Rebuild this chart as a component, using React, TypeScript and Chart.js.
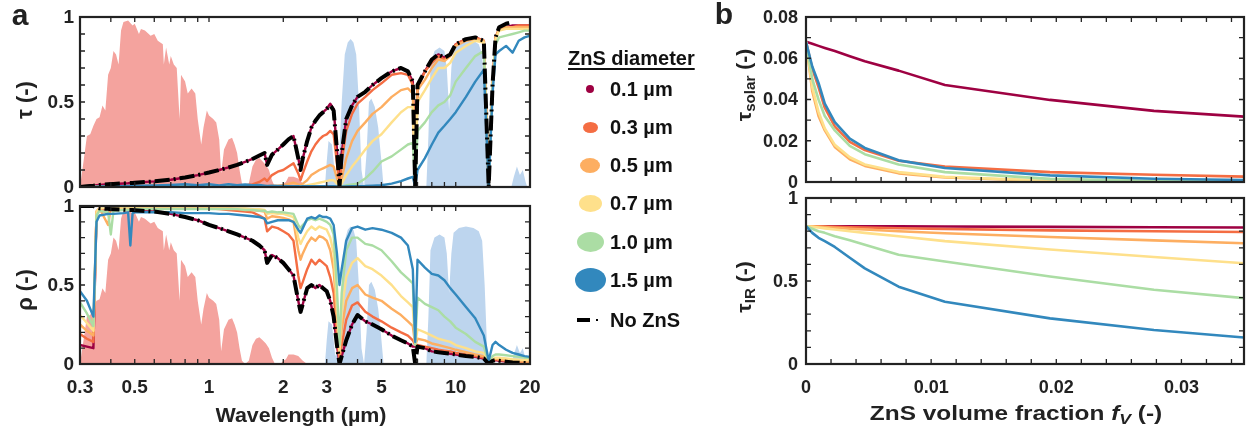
import React, { useEffect, useRef } from "react";
import { Chart, registerables } from "chart.js";
Chart.register(...registerables);

const W = 1246;
const H = 438;

// ---------- panel a: wavelength grid (µm) ----------
const WL = [
  0.30, 0.32, 0.34, 0.35, 0.36,
  0.39, 0.40, 0.41,
  0.45, 0.47, 0.48, 0.49, 0.5,
  0.6, 0.7, 0.8, 0.9, 1.0,
  1.1, 1.2, 1.3, 1.4, 1.5,
  1.6, 1.68, 1.72, 1.8, 1.9,
  2.0, 2.1, 2.2, 2.3, 2.35,
  2.4, 2.5, 2.6, 2.7, 2.8,
  2.9, 3.0, 3.1, 3.2, 3.3,
  3.38, 3.45, 3.6, 3.8, 4.0,
  4.3, 4.6, 5.0, 5.5, 6.0,
  6.4, 6.7, 6.85, 7.0, 7.5,
  8.0, 8.5, 9.0, 9.5, 10,
  11, 12, 13, 13.6, 14.1,
  14.5, 15, 16, 17, 18,
  19, 20,
];

// transmittance tau (-)
const TAU_NOZNS = [
  0, 0.005, 0.008, 0.01, 0.012,
  0.016, 0.017, 0.018,
  0.021, 0.022, 0.023, 0.024, 0.025,
  0.033, 0.043, 0.056, 0.07, 0.085,
  0.10, 0.115, 0.13, 0.148, 0.165,
  0.185, 0.20, 0.13, 0.19, 0.22,
  0.25, 0.28, 0.30, 0.17, 0.10,
  0.17, 0.27, 0.35, 0.39, 0.42,
  0.44, 0.46, 0.48, 0.45, 0.22,
  0.0, 0.20, 0.40, 0.48, 0.53,
  0.56, 0.60, 0.64, 0.68, 0.70,
  0.68, 0.62, 0.0, 0.60, 0.68,
  0.75, 0.78, 0.76, 0.78, 0.84,
  0.87, 0.88, 0.86, 0.0, 0.60,
  0.88, 0.94, 0.96, 0.97, null,
  null, null,
];
const TAU_01 = [
  0, 0.005, 0.008, 0.01, 0.012,
  0.016, 0.017, 0.018,
  0.021, 0.022, 0.023, 0.024, 0.025,
  0.033, 0.043, 0.056, 0.07, 0.085,
  0.10, 0.115, 0.13, 0.148, 0.165,
  0.185, 0.20, 0.13, 0.19, 0.22,
  0.25, 0.28, 0.30, 0.17, 0.10,
  0.17, 0.27, 0.35, 0.39, 0.42,
  0.44, 0.46, 0.49, 0.46, 0.22,
  0.0, 0.20, 0.40, 0.48, 0.53,
  0.56, 0.60, 0.64, 0.68, 0.70,
  0.68, 0.62, 0.0, 0.60, 0.68,
  0.75, 0.78, 0.76, 0.78, 0.84,
  0.87, 0.88, 0.86, 0.0, 0.60,
  0.88, 0.93, 0.94, 0.95, 0.95,
  0.95, 0.95,
];
const TAU_03 = [
  0, 0.002, 0.003, 0.003, 0.003,
  0.004, 0.004, 0.004,
  0.004, 0.004, 0.004, 0.004, 0.004,
  0.004, 0.004, 0.004, 0.005, 0.005,
  0.005, 0.006, 0.008, 0.01, 0.015,
  0.03, 0.05, 0.035, 0.07, 0.09,
  0.10, 0.12, 0.14, 0.08, 0.04,
  0.08, 0.15, 0.21, 0.25, 0.28,
  0.30, 0.31, 0.33, 0.31, 0.14,
  0.0, 0.15, 0.33, 0.43, 0.49,
  0.53, 0.57, 0.61, 0.66, 0.67,
  0.66, 0.60, 0.0, 0.58, 0.68,
  0.73, 0.77, 0.75, 0.78, 0.84,
  0.87, 0.88, 0.86, 0.0, 0.60,
  0.88, 0.93, 0.94, 0.94, 0.95,
  0.95, 0.95,
];
const TAU_05 = [
  0, 0.001, 0.002, 0.002, 0.002,
  0.002, 0.002, 0.002,
  0.002, 0.002, 0.002, 0.002, 0.002,
  0.002, 0.002, 0.003, 0.003, 0.003,
  0.003, 0.003, 0.003, 0.004, 0.004,
  0.005, 0.006, 0.005, 0.007, 0.008,
  0.01, 0.018, 0.025, 0.015, 0.01,
  0.02, 0.04, 0.07, 0.085, 0.10,
  0.11, 0.12, 0.13, 0.12, 0.05,
  0.0, 0.05, 0.17, 0.27, 0.33,
  0.38, 0.43, 0.47, 0.53, 0.57,
  0.58, 0.55, 0.0, 0.57, 0.63,
  0.70, 0.75, 0.74, 0.77, 0.83,
  0.86, 0.87, 0.86, 0.0, 0.60,
  0.88, 0.93, 0.94, 0.94, 0.94,
  0.94, 0.94,
];
const TAU_07 = [
  0, 0.001, 0.001, 0.001, 0.001,
  0.001, 0.001, 0.001,
  0.001, 0.001, 0.001, 0.001, 0.001,
  0.001, 0.001, 0.002, 0.002, 0.002,
  0.002, 0.002, 0.002, 0.002, 0.002,
  0.002, 0.003, 0.002, 0.003, 0.003,
  0.004, 0.005, 0.006, 0.004, 0.003,
  0.006, 0.01, 0.015, 0.02, 0.025,
  0.03, 0.035, 0.04, 0.04, 0.02,
  0.0, 0.02, 0.07, 0.12, 0.16,
  0.22, 0.27, 0.31, 0.38, 0.44,
  0.47, 0.47, 0.0, 0.50, 0.57,
  0.64, 0.70, 0.70, 0.73, 0.79,
  0.83, 0.86, 0.85, 0.0, 0.60,
  0.87, 0.92, 0.93, 0.93, 0.93,
  0.93, 0.93,
];
const TAU_10 = [
  0, 0.001, 0.001, 0.001, 0.001,
  0.001, 0.001, 0.001,
  0.002, 0.002, 0.002, 0.002, 0.002,
  0.003, 0.004, 0.005, 0.004, 0.006,
  0.005, 0.006, 0.005, 0.006, 0.005,
  0.005, 0.004, 0.003, 0.004, 0.004,
  0.004, 0.004, 0.004, 0.003, 0.002,
  0.003, 0.003, 0.003, 0.003, 0.003,
  0.003, 0.003, 0.003, 0.003, 0.002,
  0.0, 0.003, 0.01, 0.015, 0.02,
  0.05, 0.09, 0.15, 0.18, 0.22,
  0.25, 0.26, 0.0, 0.33, 0.38,
  0.44, 0.48, 0.50, 0.54, 0.62,
  0.70, 0.77, 0.80, 0.0, 0.58,
  0.84, 0.88, 0.89, 0.90, 0.91,
  0.92, 0.92,
];
const TAU_15 = [
  0, 0.001, 0.002, 0.002, 0.003,
  0.003, 0.004, 0.004,
  0.005, 0.006, 0.006, 0.007, 0.007,
  0.009, 0.012, 0.016, 0.01, 0.016,
  0.009, 0.016, 0.01, 0.015, 0.01,
  0.012, 0.008, 0.006, 0.008, 0.006,
  0.006, 0.005, 0.005, 0.004, 0.003,
  0.004, 0.004, 0.004, 0.004, 0.004,
  0.004, 0.004, 0.004, 0.004, 0.003,
  0.0, 0.002, 0.003, 0.004, 0.005,
  0.006, 0.008, 0.01, 0.02, 0.035,
  0.05, 0.06, 0.0, 0.10, 0.17,
  0.25, 0.32, 0.36, 0.40, 0.44,
  0.53, 0.62, 0.69, 0.0, 0.55,
  0.78, 0.80, 0.83, 0.79, 0.86,
  0.88, 0.89,
];

// reflectance rho (-)
const RHO_NOZNS = [
  1.0, 1.0, 1.0, 0.99, 0.985,
  0.982, 0.98, 0.98,
  0.977, 0.975, 0.975, 0.974, 0.973,
  0.965, 0.95, 0.93, 0.91, 0.88,
  0.86, 0.84, 0.82, 0.80, 0.78,
  0.75, 0.72, 0.64, 0.69, 0.67,
  0.64, 0.60, 0.56, 0.40, 0.33,
  0.38, 0.48, 0.50, 0.48, 0.50,
  0.48, 0.46, 0.40, 0.30, 0.12,
  0.0, 0.05, 0.15, 0.25, 0.31,
  0.27, 0.25, 0.22, 0.18, 0.15,
  0.13, 0.11, 0.0, 0.11, 0.10,
  0.08, 0.075, 0.07, 0.065, 0.06,
  0.05, 0.045, 0.035, 0.0, 0.02,
  0.025, 0.02, 0.015, 0.01, 0.008,
  0.006, 0.005,
];
const RHO_01 = [
  0.12, 0.11, 0.10, 0.96, 0.975,
  0.982, 0.98, 0.98,
  0.977, 0.975, 0.975, 0.974, 0.973,
  0.965, 0.95, 0.93, 0.91, 0.88,
  0.86, 0.84, 0.82, 0.80, 0.78,
  0.75, 0.72, 0.64, 0.69, 0.67,
  0.64, 0.60, 0.56, 0.40, 0.33,
  0.38, 0.48, 0.50, 0.48, 0.50,
  0.48, 0.46, 0.40, 0.30, 0.12,
  0.0, 0.05, 0.15, 0.25, 0.31,
  0.27, 0.25, 0.22, 0.18, 0.15,
  0.13, 0.11, 0.11, 0.11, 0.10,
  0.08, 0.075, 0.07, 0.065, 0.06,
  0.05, 0.045, 0.035, 0.01, 0.02,
  0.025, 0.02, 0.015, 0.01, 0.008,
  0.006, 0.005,
];
const RHO_03 = [
  0.19, 0.16, 0.14, 0.965, 0.985,
  0.95, 0.985, 0.985,
  0.99, 0.99, 0.99, 0.99, 0.99,
  0.99, 0.99, 0.99, 0.985, 0.985,
  0.98, 0.975, 0.97, 0.965, 0.96,
  0.94, 0.92, 0.84, 0.87, 0.86,
  0.84, 0.82, 0.78, 0.56, 0.48,
  0.52, 0.60, 0.66, 0.63, 0.66,
  0.64, 0.62, 0.55, 0.45, 0.18,
  0.03, 0.12, 0.28, 0.37, 0.39,
  0.33, 0.30, 0.27, 0.23, 0.20,
  0.18, 0.15, 0.12, 0.12, 0.11,
  0.10, 0.09, 0.085, 0.08, 0.07,
  0.06, 0.05, 0.04, 0.01, 0.02,
  0.03, 0.025, 0.02, 0.015, 0.012,
  0.01, 0.01,
];
const RHO_05 = [
  0.25, 0.21, 0.18, 0.965, 0.985,
  0.88, 0.985, 0.99,
  0.99, 0.99, 0.99, 0.99, 0.99,
  0.99, 0.99, 0.99, 0.99, 0.99,
  0.985, 0.985, 0.98, 0.98, 0.975,
  0.97, 0.965, 0.92, 0.935, 0.93,
  0.925, 0.915, 0.90, 0.72, 0.66,
  0.70, 0.76, 0.80, 0.78, 0.81,
  0.80, 0.78, 0.72, 0.60, 0.28,
  0.06, 0.22, 0.40, 0.48, 0.50,
  0.44, 0.42, 0.40, 0.35, 0.31,
  0.27, 0.24, 0.12, 0.16, 0.15,
  0.13, 0.12, 0.11, 0.10, 0.09,
  0.075, 0.06, 0.05, 0.01, 0.025,
  0.035, 0.03, 0.025, 0.02, 0.018,
  0.016, 0.015,
];
const RHO_07 = [
  0.31, 0.26, 0.21, 0.965, 0.985,
  0.985, 0.99, 0.99,
  0.99, 0.99, 0.99, 0.99, 0.99,
  0.99, 0.99, 0.99, 0.99, 0.99,
  0.99, 0.985, 0.985, 0.985, 0.98,
  0.98, 0.975, 0.95, 0.955, 0.95,
  0.95, 0.94, 0.93, 0.80, 0.76,
  0.79, 0.84, 0.87, 0.85, 0.87,
  0.86, 0.85, 0.80, 0.70, 0.38,
  0.08, 0.33, 0.55, 0.64, 0.67,
  0.62, 0.60, 0.56, 0.50, 0.43,
  0.39, 0.36, 0.12, 0.22, 0.20,
  0.18, 0.16, 0.15, 0.14, 0.12,
  0.10, 0.08, 0.07, 0.01, 0.03,
  0.04, 0.04, 0.035, 0.03, 0.028,
  0.025, 0.025,
];
const RHO_10 = [
  0.39, 0.32, 0.24, 0.94, 0.97,
  0.96, 0.82, 0.97,
  0.975, 0.975, 0.975, 0.98, 0.98,
  0.98, 0.98, 0.98, 0.98, 0.98,
  0.98, 0.98, 0.98, 0.975, 0.975,
  0.97, 0.97, 0.96, 0.965, 0.96,
  0.96, 0.955, 0.95, 0.88, 0.86,
  0.88, 0.91, 0.92, 0.91, 0.92,
  0.91, 0.90, 0.88, 0.82, 0.48,
  0.12, 0.45, 0.72, 0.80, 0.80,
  0.76, 0.75, 0.72, 0.65, 0.58,
  0.54, 0.51, 0.12, 0.42, 0.38,
  0.36, 0.34, 0.30, 0.27, 0.23,
  0.19, 0.14, 0.11, 0.01, 0.05,
  0.06, 0.06, 0.055, 0.05, 0.045,
  0.04, 0.04,
];
const RHO_15 = [
  0.46, 0.40, 0.30, 0.90, 0.94,
  0.95, 0.95, 0.95,
  0.955, 0.96, 0.75, 0.955, 0.96,
  0.96, 0.96, 0.955, 0.955, 0.955,
  0.95, 0.95, 0.945, 0.94, 0.935,
  0.93, 0.92, 0.89, 0.90, 0.91,
  0.91, 0.91, 0.90, 0.85, 0.83,
  0.86, 0.92, 0.93, 0.92, 0.94,
  0.93, 0.93, 0.92, 0.88, 0.70,
  0.50, 0.60, 0.78, 0.86, 0.87,
  0.85, 0.86, 0.85, 0.83, 0.80,
  0.75, 0.60, 0.14, 0.66, 0.61,
  0.57, 0.56, 0.53, 0.48, 0.44,
  0.36, 0.29, 0.18, 0.02, 0.12,
  0.14, 0.12, 0.09, 0.07, 0.06,
  0.05, 0.045,
];

// normalised solar spectrum (background, red)
const SOLAR_WL = [
  0.30, 0.31, 0.32, 0.33, 0.34, 0.35, 0.36, 0.37, 0.38, 0.39,
  0.40, 0.41, 0.42, 0.43, 0.44, 0.45, 0.47, 0.49, 0.50, 0.52,
  0.53, 0.55, 0.58, 0.60, 0.62, 0.65, 0.656, 0.67, 0.69, 0.70,
  0.72, 0.74, 0.76, 0.77, 0.80, 0.82, 0.85, 0.88, 0.90, 0.93,
  0.95, 0.98, 1.00, 1.04, 1.07, 1.10, 1.12, 1.15, 1.20, 1.24,
  1.27, 1.30, 1.33, 1.36, 1.40, 1.45, 1.50, 1.55, 1.60, 1.65,
  1.70, 1.75, 1.80, 1.85, 1.95, 2.00, 2.05, 2.10, 2.20, 2.30,
  2.40, 2.50,
];
const SOLAR = [
  0, 0.15, 0.30, 0.31, 0.36, 0.40, 0.41, 0.48, 0.45, 0.66,
  0.70, 0.80, 0.78, 0.72, 0.92, 0.97, 0.98, 0.95, 0.96, 0.90,
  0.93, 0.92, 0.89, 0.90, 0.86, 0.84, 0.72, 0.82, 0.72, 0.77,
  0.72, 0.70, 0.40, 0.66, 0.62, 0.55, 0.58, 0.55, 0.40, 0.25,
  0.35, 0.45, 0.42, 0.40, 0.38, 0.28, 0.08, 0.22, 0.28, 0.29,
  0.25, 0.20, 0.10, 0.02, 0, 0.02, 0.12, 0.16, 0.17, 0.15,
  0.13, 0.10, 0.04, 0, 0, 0.02, 0.03, 0.06, 0.06, 0.05,
  0.02, 0,
];

// normalised atmospheric transmittance windows (background, blue)
const WIN_WL = [
  2.95, 3.0, 3.05, 3.15, 3.25, 3.35, 3.45, 3.55, 3.65, 3.75,
  3.85, 3.95, 4.05, 4.15, 4.25, 4.35, 4.45, 4.55, 4.7, 4.85,
  5.0, 5.1, 7.6, 7.75, 7.9, 8.2, 8.6, 9.0, 9.2, 9.4,
  9.6, 9.8, 10.3, 11, 11.8, 12.4, 12.8, 13.1, 13.4, 13.6,
  16.8, 17.2, 17.7, 18.2, 18.7, 19.2, 19.5,
];
const WIN = [
  0, 0.15, 0.27, 0.25, 0.05, 0.1, 0.5, 0.78, 0.85, 0.87,
  0.85, 0.78, 0.5, 0.1, 0, 0.2, 0.5, 0.52, 0.47, 0.35,
  0.15, 0, 0, 0.3, 0.72, 0.8, 0.82, 0.8, 0.7, 0.45,
  0.7, 0.83, 0.86, 0.87, 0.86, 0.84, 0.78, 0.5, 0.1, 0,
  0, 0.06, 0.12, 0.07, 0.1, 0.03, 0,
];

// ---------- panel b: ZnS volume fraction ----------
const FV = [0, 0.0005, 0.001, 0.0015, 0.0023, 0.0035, 0.0047, 0.0074, 0.0111, 0.0195, 0.0278, 0.035];

const TSOL_01 = [0.068, 0.067, 0.066, 0.065, 0.0635, 0.061, 0.0585, 0.054, 0.047, 0.0398, 0.0345, 0.0317];
const TSOL_03 = [0.068, 0.055, 0.046, 0.036, 0.027, 0.0195, 0.0155, 0.0103, 0.0075, 0.0048, 0.0035, 0.0026];
const TSOL_05 = [0.068, 0.044, 0.032, 0.025, 0.017, 0.011, 0.0078, 0.0042, 0.0022, 0.0005, 0.0002, 0.0001];
const TSOL_07 = [0.068, 0.046, 0.034, 0.026, 0.018, 0.012, 0.0085, 0.0048, 0.0025, 0.0006, 0.0002, 0.0001];
const TSOL_10 = [0.068, 0.05, 0.04, 0.032, 0.025, 0.0175, 0.0135, 0.0085, 0.0048, 0.0015, 0.0006, 0.0003];
const TSOL_15 = [0.068, 0.056, 0.048, 0.038, 0.029, 0.021, 0.0165, 0.0105, 0.0068, 0.0032, 0.0016, 0.001];

const TIR_01 = [0.83, 0.83, 0.83, 0.83, 0.83, 0.83, 0.83, 0.829, 0.828, 0.826, 0.824, 0.822];
const TIR_03 = [0.83, 0.83, 0.829, 0.828, 0.826, 0.824, 0.822, 0.818, 0.813, 0.805, 0.80, 0.795];
const TIR_05 = [0.83, 0.829, 0.827, 0.825, 0.821, 0.815, 0.81, 0.80, 0.788, 0.765, 0.745, 0.727];
const TIR_07 = [0.83, 0.826, 0.822, 0.817, 0.81, 0.80, 0.79, 0.77, 0.74, 0.69, 0.645, 0.607];
const TIR_10 = [0.83, 0.815, 0.80, 0.79, 0.77, 0.745, 0.718, 0.658, 0.617, 0.527, 0.447, 0.397];
const TIR_15 = [0.83, 0.79, 0.76, 0.74, 0.705, 0.64, 0.576, 0.466, 0.375, 0.275, 0.205, 0.16];

// ---------- ticks & labels ----------
const LOG_TICKS = [0.3, 0.4, 0.5, 0.6, 0.7, 0.8, 0.9, 1, 2, 3, 4, 5, 6, 7, 8, 9, 10, 20];
const LOG_LABELS = ["0.3", "0.5", "1", "2", "3", "5", "10", "20"];
const UNIT_TICKS = [0, 0.1, 0.2, 0.3, 0.4, 0.5, 0.6, 0.7, 0.8, 0.9, 1];
const UNIT_LABELS = ["0", "0.5", "1"];
const FV_TICKS = [0, 0.002, 0.004, 0.006, 0.008, 0.01, 0.012, 0.014, 0.016, 0.018, 0.02, 0.022, 0.024, 0.026, 0.028, 0.03, 0.032, 0.034];
const FV_LABELS = ["0", "0.01", "0.02", "0.03"];
const TSOL_TICKS = [0, 0.01, 0.02, 0.03, 0.04, 0.05, 0.06, 0.07, 0.08];
const TSOL_LABELS = ["0", "0.02", "0.04", "0.06", "0.08"];

const SERIES_NAMES = ["0.1 µm", "0.3 µm", "0.5 µm", "0.7 µm", "1.0 µm", "1.5 µm"];

const COLORS = ["#9e0142", "#f46d43", "#fdae61", "#fee08b", "#abdda4", "#3288bd"];
const FONT = '"Liberation Sans", Arial, Helvetica, sans-serif';
const INK = "#222222";

type Box = { l: number; t: number; r: number; b: number };

const pts = (xs: number[], ys: (number | null)[]) =>
  xs.map((x, i) => ({ x, y: ys[i] })).filter((p) => p.y !== null && p.y !== undefined);

function framePlugin(spec: {
  xTicks: number[];
  yTicks: number[];
  xLabels: string[] | null;
  yLabels: string[];
  fontSize: number;
  yLabelGap: number;
}) {
  return {
    id: "frameTicks",
    afterDatasetsDraw(chart: any) {
      const { ctx, chartArea: a } = chart;
      const xs = chart.scales.x;
      const ys = chart.scales.y;
      const TL = 5;
      ctx.save();
      ctx.strokeStyle = INK;
      ctx.lineWidth = 1.3;
      ctx.beginPath();
      for (const v of spec.xTicks) {
        const p = xs.getPixelForValue(v);
        ctx.moveTo(p, a.bottom);
        ctx.lineTo(p, a.bottom - TL);
        ctx.moveTo(p, a.top);
        ctx.lineTo(p, a.top + TL);
      }
      for (const v of spec.yTicks) {
        const p = ys.getPixelForValue(v);
        ctx.moveTo(a.left, p);
        ctx.lineTo(a.left + TL, p);
        ctx.moveTo(a.right, p);
        ctx.lineTo(a.right - TL, p);
      }
      ctx.stroke();
      ctx.lineWidth = 2.2;
      ctx.strokeRect(a.left, a.top, a.right - a.left, a.bottom - a.top);
      ctx.fillStyle = INK;
      ctx.font = `bold ${spec.fontSize}px ${FONT}`;
      ctx.textBaseline = "middle";
      if (spec.xLabels) {
        ctx.textAlign = "center";
        for (const t of spec.xLabels) {
          ctx.fillText(t, xs.getPixelForValue(parseFloat(t)), a.bottom + 24);
        }
      }
      ctx.textAlign = "right";
      for (const t of spec.yLabels) {
        ctx.fillText(t, a.left - spec.yLabelGap, ys.getPixelForValue(parseFloat(t)) + 1);
      }
      ctx.restore();
    },
  };
}

function lineSet(data: any[], color: string, order: number, width = 2.4) {
  return {
    data,
    borderColor: color,
    backgroundColor: color,
    borderWidth: width,
    pointRadius: 0,
    fill: false,
    tension: 0,
    order,
    borderJoinStyle: "round" as const,
  };
}

function spectrumDatasets(series: (number | null)[][], noZnS: (number | null)[]) {
  const ds: any[] = [
    {
      data: pts(SOLAR_WL, SOLAR),
      borderWidth: 0,
      borderColor: "rgba(0,0,0,0)",
      backgroundColor: "#f4a39e",
      pointRadius: 0,
      fill: "origin",
      order: 20,
    },
    {
      data: pts(WIN_WL, WIN),
      borderWidth: 0,
      borderColor: "rgba(0,0,0,0)",
      backgroundColor: "#bdd5ee",
      pointRadius: 0,
      fill: "origin",
      order: 21,
    },
  ];
  series.forEach((s, i) => ds.push(lineSet(pts(WL, s), COLORS[i], 10 - i)));
  ds.push({
    ...lineSet(pts(WL, noZnS), "#000000", 0, 4),
    borderDash: [15, 4, 2, 4],
    borderCapStyle: "butt",
  });
  return ds;
}

function buildChart(canvas: HTMLCanvasElement, box: Box, datasets: any[], xScale: any, yScale: any, plugin: any) {
  return new Chart(canvas, {
    type: "line",
    data: { datasets },
    options: {
      animation: false,
      responsive: false,
      maintainAspectRatio: false,
      events: [],
      layout: { padding: { left: box.l, top: box.t, right: W - box.r, bottom: H - box.b } },
      plugins: { legend: { display: false }, tooltip: { enabled: false } },
      scales: {
        x: { ...xScale, display: false },
        y: { ...yScale, display: false },
      },
    },
    plugins: [plugin],
  } as any);
}

const BOX_TAU: Box = { l: 80, t: 17, r: 530, b: 187 };
const BOX_RHO: Box = { l: 80, t: 206, r: 530, b: 364 };
const BOX_TSOL: Box = { l: 806, t: 17, r: 1244, b: 182 };
const BOX_TIR: Box = { l: 806, t: 198, r: 1244, b: 364 };

function Txt(props: { x: number; y: number; size: number; rot?: boolean; sx?: number; children: any; style?: any }) {
  const { x, y, size, rot, sx, children, style } = props;
  return (
    <div
      style={{
        position: "absolute",
        left: x,
        top: y,
        transform: `translate(-50%, -50%)${rot ? " rotate(-90deg)" : ""}${sx ? ` scaleX(${sx})` : ""}`,
        font: `bold ${size}px ${FONT}`,
        lineHeight: 1,
        whiteSpace: "nowrap",
        color: INK,
        ...style,
      }}
    >
      {children}
    </div>
  );
}

export default function App() {
  const r1 = useRef<HTMLCanvasElement>(null);
  const r2 = useRef<HTMLCanvasElement>(null);
  const r3 = useRef<HTMLCanvasElement>(null);
  const r4 = useRef<HTMLCanvasElement>(null);

  useEffect(() => {
    const logX = { type: "logarithmic", min: 0.3, max: 20 };
    const unitY = { type: "linear", min: 0, max: 1 };
    const fvX = { type: "linear", min: 0, max: 0.035 };
    const charts: Chart[] = [];

    charts.push(
      buildChart(
        r1.current!,
        BOX_TAU,
        spectrumDatasets([TAU_01, TAU_03, TAU_05, TAU_07, TAU_10, TAU_15], TAU_NOZNS),
        logX,
        unitY,
        framePlugin({ xTicks: LOG_TICKS, yTicks: UNIT_TICKS, xLabels: null, yLabels: UNIT_LABELS, fontSize: 19, yLabelGap: 6 })
      )
    );
    charts.push(
      buildChart(
        r2.current!,
        BOX_RHO,
        spectrumDatasets([RHO_01, RHO_03, RHO_05, RHO_07, RHO_10, RHO_15], RHO_NOZNS),
        logX,
        unitY,
        framePlugin({ xTicks: LOG_TICKS, yTicks: UNIT_TICKS, xLabels: LOG_LABELS, yLabels: UNIT_LABELS, fontSize: 19, yLabelGap: 6 })
      )
    );
    const tsol = [TSOL_01, TSOL_03, TSOL_05, TSOL_07, TSOL_10, TSOL_15];
    charts.push(
      buildChart(
        r3.current!,
        BOX_TSOL,
        tsol.map((s, i) => lineSet(pts(FV, s), COLORS[i], 10 - i, 2.6)),
        fvX,
        { type: "linear", min: 0, max: 0.08 },
        framePlugin({ xTicks: FV_TICKS, yTicks: TSOL_TICKS, xLabels: null, yLabels: TSOL_LABELS, fontSize: 18, yLabelGap: 8 })
      )
    );
    const tir = [TIR_01, TIR_03, TIR_05, TIR_07, TIR_10, TIR_15];
    charts.push(
      buildChart(
        r4.current!,
        BOX_TIR,
        tir.map((s, i) => lineSet(pts(FV, s), COLORS[i], 10 - i, 2.6)),
        fvX,
        unitY,
        framePlugin({ xTicks: FV_TICKS, yTicks: UNIT_TICKS, xLabels: FV_LABELS, yLabels: UNIT_LABELS, fontSize: 18, yLabelGap: 8 })
      )
    );
    return () => charts.forEach((c) => c.destroy());
  }, []);

  const cv = { position: "absolute" as const, left: 0, top: 0 };
  const markers = [
    { w: 8, h: 8 },
    { w: 15, h: 11 },
    { w: 20, h: 15 },
    { w: 23, h: 17 },
    { w: 27, h: 20 },
    { w: 31, h: 24 },
  ];
  const rowY = [89, 127, 165, 203, 242, 280];

  return (
    <div style={{ position: "absolute", left: 0, top: 0, width: W, height: H, background: "#fff", overflow: "hidden" }}>
      <canvas ref={r1} width={W} height={H} style={cv} />
      <canvas ref={r2} width={W} height={H} style={cv} />
      <canvas ref={r3} width={W} height={H} style={cv} />
      <canvas ref={r4} width={W} height={H} style={cv} />

      <Txt x={20} y={15} size={30}>a</Txt>
      <Txt x={724} y={14} size={30}>b</Txt>

      <Txt x={25} y={100} size={22} rot>τ (-)</Txt>
      <Txt x={25} y={290} size={22} rot>ρ (-)</Txt>
      <Txt x={301} y={415} size={20} sx={1.07}>Wavelength (µm)</Txt>

      <Txt x={745} y={85} size={21} rot>
        τ<sub style={{ fontSize: "0.72em", verticalAlign: "-0.25em" }}>solar</sub> (-)
      </Txt>
      <Txt x={745} y={287} size={21} rot>
        τ<sub style={{ fontSize: "0.72em", verticalAlign: "-0.25em" }}>IR</sub> (-)
      </Txt>
      <Txt x={1016} y={415} size={20} sx={1.22}>
        ZnS volume fraction <i>f</i>
        <sub style={{ fontSize: "0.72em", verticalAlign: "-0.3em" }}>
          <i>V</i>
        </sub>{" "}
        (-)
      </Txt>

      <div
        style={{
          position: "absolute",
          left: 568,
          top: 47,
          font: `bold 20px ${FONT}`,
          lineHeight: "22px",
          textDecoration: "underline",
          textUnderlineOffset: "3px",
          color: "#111",
          whiteSpace: "nowrap",
        }}
      >
        ZnS diameter
      </div>
      {SERIES_NAMES.map((name, i) => (
        <React.Fragment key={name}>
          <div
            style={{
              position: "absolute",
              left: 590 - markers[i].w / 2,
              top: rowY[i] - markers[i].h / 2,
              width: markers[i].w,
              height: markers[i].h,
              borderRadius: "50%",
              background: COLORS[i],
            }}
          />
          <div
            style={{
              position: "absolute",
              left: 610,
              top: rowY[i] - 11,
              font: `bold 20px ${FONT}`,
              lineHeight: "22px",
              color: "#111",
              whiteSpace: "nowrap",
            }}
          >
            {name}
          </div>
        </React.Fragment>
      ))}
      <div style={{ position: "absolute", left: 577, top: 318, width: 13, height: 4, background: "#000" }} />
      <div style={{ position: "absolute", left: 596, top: 319, width: 2, height: 2, background: "#000" }} />
      <div
        style={{
          position: "absolute",
          left: 610,
          top: 309,
          font: `bold 20px ${FONT}`,
          lineHeight: "22px",
          color: "#111",
          whiteSpace: "nowrap",
        }}
      >
        No ZnS
      </div>
    </div>
  );
}
